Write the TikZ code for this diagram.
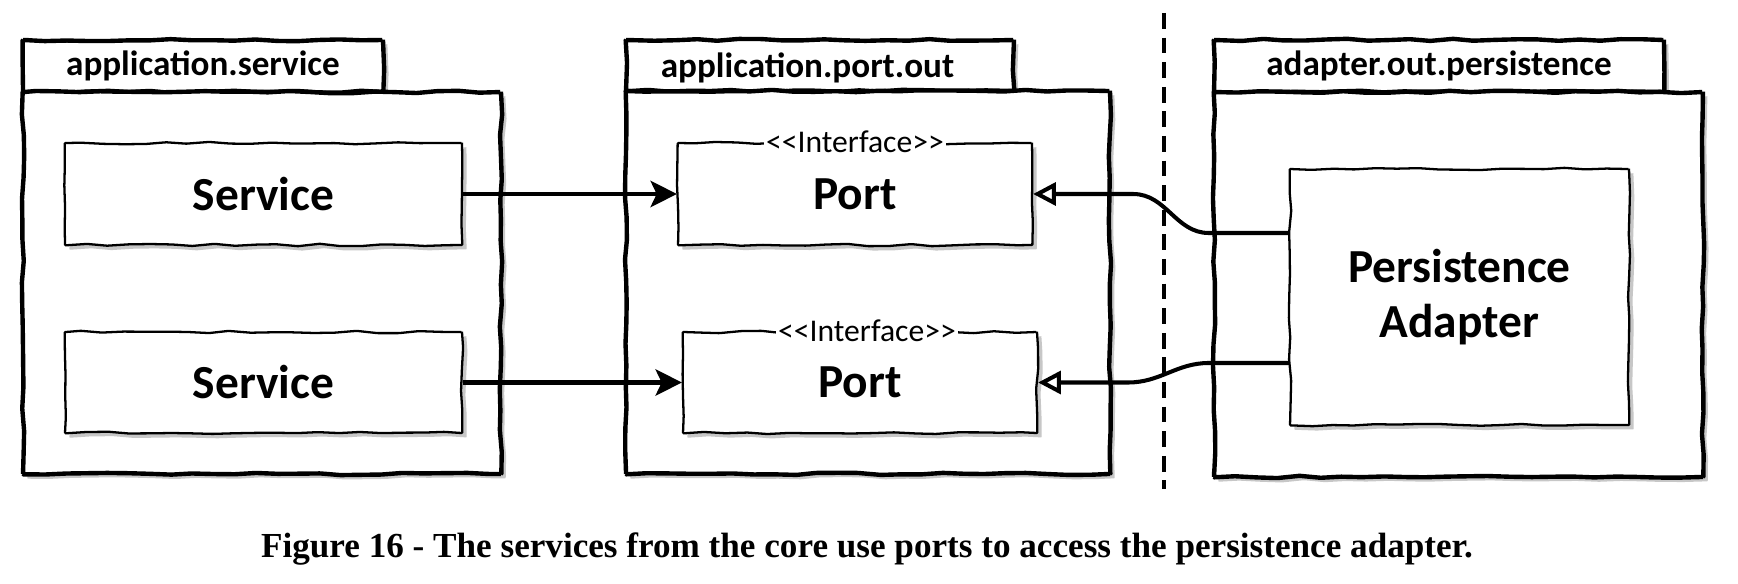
\documentclass[tikz,border=0pt]{standalone}
\usepackage{fontspec}
\newfontfamily\sketchfont{Carlito}
\newfontfamily\capfont{Liberation Serif}
\usetikzlibrary{arrows.meta}
\usetikzlibrary{shadows}
\usetikzlibrary{decorations.pathmorphing}

\begin{document}
\pgfmathsetseed{7}
\begin{tikzpicture}[x=0.02cm, y=-0.02cm,
  rough/.style={decorate, decoration={random steps, segment length=12pt, amplitude=0.7pt}, rounded corners=0.4pt},
  shade/.style={drop shadow={shadow xshift=2.5pt, shadow yshift=-2.5pt, fill=black!22, opacity=1}},
  pkgtab/.style={rough, shade, draw, fill=white, line width=2.5pt, inner sep=0pt, font=\sketchfont\bfseries\fontsize{20}{24}\selectfont},
  pkgbody/.style={rough, shade, draw, fill=white, line width=2.5pt, inner sep=0pt},
  unit/.style={rough, shade, draw, fill=white, line width=1.3pt, inner sep=0pt, align=center, font=\sketchfont\bfseries\fontsize{27}{31}\selectfont},
  stereo/.style={fill=white, inner sep=1.5pt, font=\sketchfont\fontsize{18}{20}\selectfont},
  uses/.style={-{Stealth[length=15pt, width=15pt, inset=3.5pt]}, line width=2.3pt},
  realizes/.style={-{Triangle[open, length=13pt, width=13pt, fill=white]}, line width=2.3pt},
  boundary/.style={line width=2pt, dash pattern=on 9pt off 5pt}
]
  \useasboundingbox (0,0) rectangle (1738,584);

  \node[pkgtab, minimum width=7.2cm, minimum height=1.04cm] at (203,66) (svctab) {application.service};
  \node[pkgbody, minimum width=9.56cm, minimum height=7.64cm] at (262,283) (svcpkg) {};
  \node[unit, minimum width=7.94cm, minimum height=2.04cm] at (263.5,194) (svc1) {Service};
  \node[unit, minimum width=7.94cm, minimum height=2.02cm] at (263.5,382.5) (svc2) {Service};

  \node[pkgtab, minimum width=7.76cm, minimum height=1.02cm, text depth=0pt] at (820,65.5) (porttab) {\hspace*{-0.5cm}application.port.out};
  \node[pkgbody, minimum width=9.68cm, minimum height=7.66cm] at (868,282.5) (portpkg) {};
  \node[unit, minimum width=7.08cm, minimum height=2.04cm] at (855,194) (port1) {Port};
  \node[unit, minimum width=7.08cm, minimum height=2.02cm] at (860,382.5) (port2) {Port};
  \node[stereo] at (port1.north) (ifc1) {<\kern0pt<Interface>\kern0pt>};
  \node[stereo] at ([xshift=0.14cm]port2.north) (ifc2) {<\kern0pt<Interface>\kern0pt>};

  \node[pkgtab, minimum width=9.0cm, minimum height=1.04cm] at (1439,66) (persisttab) {adapter.out.persistence};
  \node[pkgbody, minimum width=9.78cm, minimum height=7.7cm] at (1458.5,284.5) (persistpkg) {};
  \node[unit, minimum width=6.78cm, minimum height=5.12cm] at (1459.5,297) (adapter) {Persistence\\Adapter};

  \coordinate (cuttop) at (1164,13);
  \coordinate (cutbot) at (1164,489);
  \draw[boundary] (cuttop) -- (cutbot);

  \draw[uses] (svc1) -- (port1);
  \draw[uses] (svc2) -- (port2);

  \draw[realizes] ([yshift=1.28cm]adapter.west) -- ++(-80,0) to[out=180, in=0] ([xshift=2cm]port1.east) -- (port1.east);
  \draw[realizes] ([yshift=-1.32cm]adapter.west) -- ++(-80,0) to[out=180, in=0] ([xshift=1.8cm]port2.east) -- (port2.east);

  \node[anchor=base, font=\capfont\bfseries\fontsize{20}{24}\selectfont] at (867,557) (caption) {Figure 16 - The services from the core use ports to access the persistence adapter.};
\end{tikzpicture}
\end{document}
